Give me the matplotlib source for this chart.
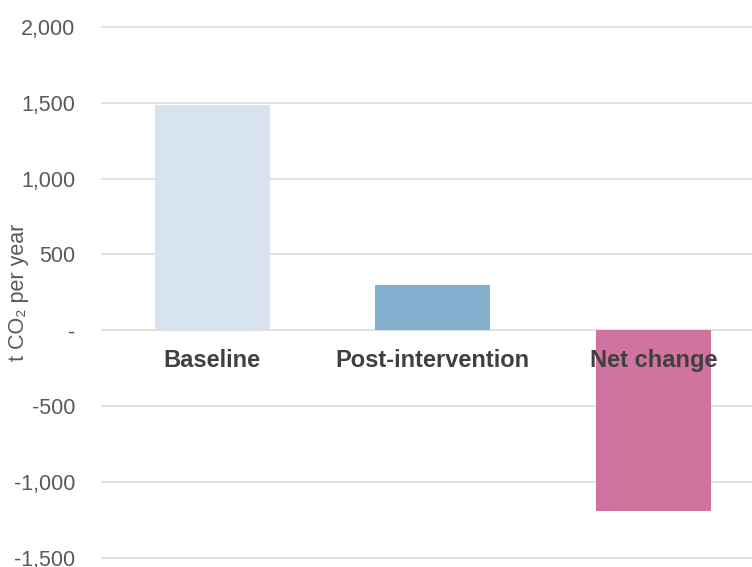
import matplotlib
matplotlib.use("Agg")
import matplotlib.pyplot as plt
from matplotlib.ticker import FuncFormatter, MultipleLocator

plt.rcParams['font.family'] = ['Liberation Sans', 'DejaVu Sans']

categories = ['Baseline', 'Post-intervention', 'Net change']
values = [1484, 297, -1194]
colors = ['#D7E4F0', '#84AFCF', '#D0739F']

fig = plt.figure(figsize=(7.52, 5.67), dpi=100)
ax = fig.add_axes([102 / 752, 9.3 / 567, 661.5 / 752, 530.7 / 567])

x = range(len(categories))
ax.bar(x, values, width=0.52, color=colors, zorder=3)

ax.set_xlim(-0.5, 2.5)
ax.set_ylim(-1500, 2000)
ax.yaxis.set_major_locator(MultipleLocator(500))
ax.yaxis.set_major_formatter(FuncFormatter(lambda v, pos: '-' if v == 0 else '{:,.0f}'.format(v)))
ax.grid(axis='y', color='#D9D9D9', linewidth=1.1, zorder=0)
ax.set_axisbelow(True)
for s in ax.spines.values():
    s.set_visible(False)
ax.tick_params(axis='y', length=0, pad=19, labelsize=15.5, labelcolor='#595959')
ax.set_xticks([])
for gl in ax.yaxis.get_gridlines():
    gl.set_clip_on(False)

# category labels sit just below the zero line
for i, name in enumerate(categories):
    ax.annotate(name, xy=(i, 0), xytext=(0, -37), textcoords='offset pixels',
                ha='center', va='baseline', fontsize=17, fontweight='bold',
                color='#404040', zorder=5)

ax.set_ylabel('t CO\u2082 per year', fontsize=15.5, color='#595959')
ax.yaxis.set_label_coords(-0.11, 0.5)

fig.savefig('out.png', dpi=100)
